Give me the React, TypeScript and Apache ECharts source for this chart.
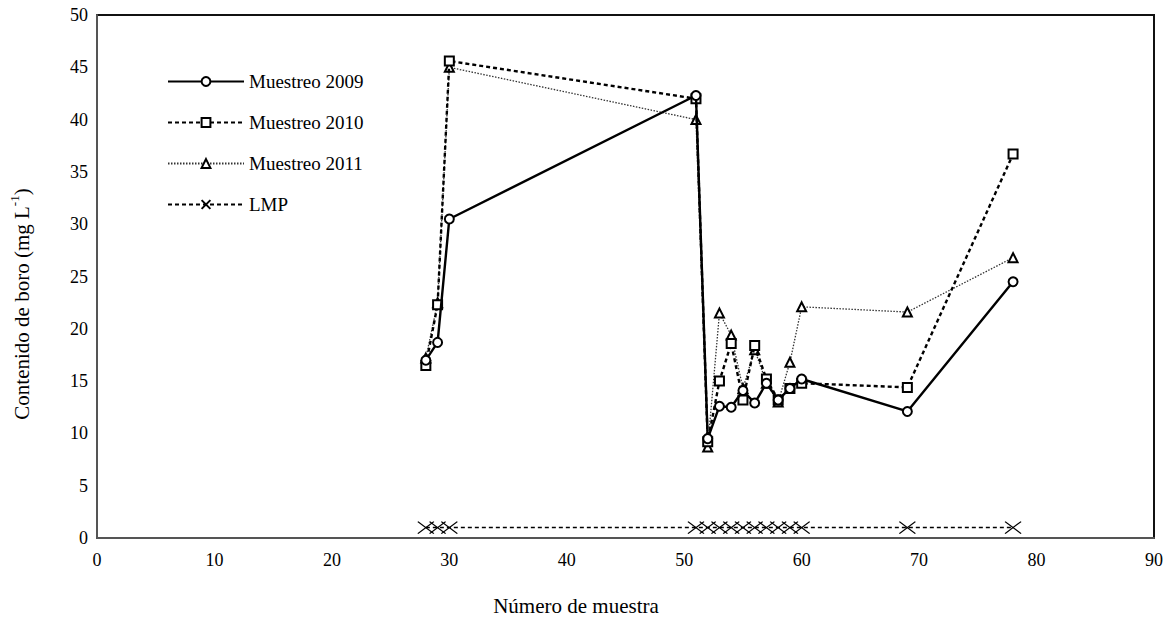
import React, { useEffect, useRef } from "react";
import * as echarts from "echarts";

const sampleNumbers = [28, 29, 30, 51, 52, 53, 54, 55, 56, 57, 58, 59, 60, 69, 78];
const muestreo2009 = [17.0, 18.7, 30.5, 42.3, 9.5, 12.6, 12.5, 14.1, 12.9, 14.8, 13.2, 14.3, 15.2, 12.1, 24.5];
const muestreo2010 = [16.5, 22.3, 45.6, 42.0, 9.2, 15.0, 18.6, 13.2, 18.4, 15.2, 13.2, 14.3, 14.8, 14.4, 36.7];
const muestreo2011 = [17.2, 22.5, 45.0, 40.0, 8.7, 21.5, 19.4, 14.3, 18.0, 14.8, 13.0, 16.8, 22.1, 21.6, 26.8];
const lmp = [1, 1, 1, 1, 1, 1, 1, 1, 1, 1, 1, 1, 1, 1, 1];

const xTicks = { min: 0, max: 90, interval: 10 };
const yTicks = { min: 0, max: 50, interval: 5 };

const seriesNames = ["Muestreo 2009", "Muestreo 2010", "Muestreo 2011", "LMP"];
const xTitle = "Número de muestra";
const yTitle = "Contenido de boro (mg L";

const FONT = "'Liberation Serif', 'Times New Roman', serif";

const pairs = (ys: number[]) => sampleNumbers.map((x, i) => [x, ys[i]]);

export default function App() {
  const ref = useRef<HTMLDivElement>(null);
  useEffect(() => {
    if (!ref.current) return;
    const chart = echarts.init(ref.current, null, { renderer: "svg" });
    chart.setOption({
      animation: false,
      backgroundColor: "#fff",
      grid: {
        left: 97,
        top: 15,
        right: 15,
        bottom: 83,
        show: true,
        borderColor: "#111",
        borderWidth: 2,
      },
      legend: {
        orient: "vertical",
        left: 162,
        top: 67,
        itemWidth: 76,
        itemHeight: 11,
        itemGap: 22,
        textStyle: { fontFamily: FONT, fontSize: 19, color: "#000" },
        data: seriesNames,
      },
      xAxis: {
        type: "value",
        min: xTicks.min,
        max: xTicks.max,
        interval: xTicks.interval,
        axisLine: { show: true, lineStyle: { color: "#555", width: 2 } },
        axisTick: { show: false },
        splitLine: { show: false },
        axisLabel: { fontFamily: FONT, fontSize: 18, color: "#000", margin: 13 },
      },
      yAxis: {
        type: "value",
        min: yTicks.min,
        max: yTicks.max,
        interval: yTicks.interval,
        axisLine: { show: true, lineStyle: { color: "#555", width: 2 } },
        axisTick: { show: false },
        splitLine: { show: false },
        axisLabel: { fontFamily: FONT, fontSize: 18, color: "#000", margin: 9 },
      },
      graphic: [
        {
          type: "text",
          x: 576,
          y: 606,
          style: {
            text: xTitle,
            fontFamily: FONT,
            fontSize: 21,
            fill: "#000",
            align: "center",
            verticalAlign: "middle",
          },
        },
        {
          type: "text",
          x: 20,
          y: 304,
          rotation: Math.PI / 2,
          style: {
            text: "{a|" + yTitle + "}{s|-1}{a|)}",
            fontFamily: FONT,
            fill: "#000",
            align: "center",
            verticalAlign: "middle",
            rich: {
              a: { fontFamily: FONT, fontSize: 21, fill: "#000", verticalAlign: "bottom", lineHeight: 24 },
              s: { fontFamily: FONT, fontSize: 13, fill: "#000", verticalAlign: "top", lineHeight: 24 },
            },
          },
        },
      ],
      series: [
        {
          name: seriesNames[0],
          type: "line",
          data: pairs(muestreo2009),
          symbol: "circle",
          symbolSize: 9,
          z: 5,
          lineStyle: { color: "#000", width: 2.4, type: "solid" },
          itemStyle: { color: "#fff", borderColor: "#000", borderWidth: 2 },
        },
        {
          name: seriesNames[1],
          type: "line",
          data: pairs(muestreo2010),
          symbol: "rect",
          symbolSize: 9,
          z: 4,
          lineStyle: { color: "#000", width: 2.4, type: [4, 3] },
          itemStyle: { color: "#fff", borderColor: "#000", borderWidth: 2 },
        },
        {
          name: seriesNames[2],
          type: "line",
          data: pairs(muestreo2011),
          symbol: "triangle",
          symbolSize: 9,
          z: 3,
          lineStyle: { color: "#333", width: 1.3, type: [1.5, 1.5] },
          itemStyle: { color: "#fff", borderColor: "#000", borderWidth: 2 },
        },
        {
          name: seriesNames[3],
          type: "line",
          data: pairs(lmp),
          symbol: "path://M0,0L10,10M0,10L10,0",
          symbolSize: [16, 12],
          z: 2,
          lineStyle: { color: "#000", width: 1.5, type: [4, 3] },
          itemStyle: { color: "none", borderColor: "#000", borderWidth: 1.2 },
        },
      ],
    });
    return () => chart.dispose();
  }, []);
  return (
    <div
      ref={ref}
      style={{ position: "fixed", left: 0, top: 0, width: 1169, height: 621, background: "#fff" }}
    />
  );
}
